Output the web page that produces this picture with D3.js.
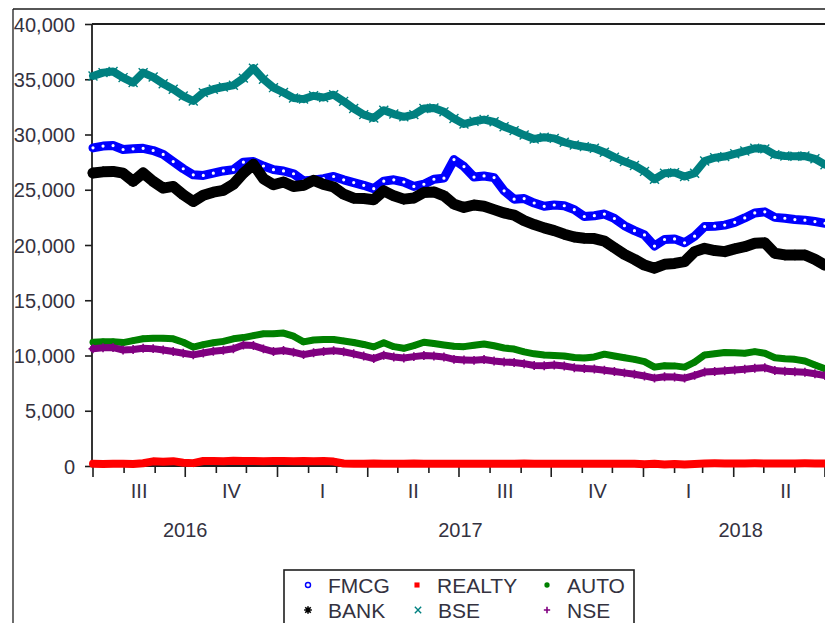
<!DOCTYPE html>
<html>
<head>
<meta charset="utf-8">
<script src="https://cdn.jsdelivr.net/npm/d3@7"></script>
<style>
  body { margin: 0; background: #fff; }
  svg { display: block; }
  text { font-family: "Liberation Sans", Arial, Helvetica, sans-serif; fill: #34323f; }
</style>
</head>
<body>
<svg id="chart" width="825" height="623"></svg>
<script>
// Sector indices, sampled every 10 calendar days from 1 July 2016
const startDate = new Date(2016, 6, 1);
const stepDays = 10;

const fmcg = [
  28790,28950,29000,28640,28700,28750,28550,28200,27550,26900,
  26350,26300,26500,26700,26820,27500,27550,27150,26820,26700,
  26450,25800,25880,26000,26200,25900,25650,25400,25100,25780,
  25900,25700,25300,25500,25950,26050,27730,27100,26150,26250,
  26100,24900,24150,24200,23800,23500,23620,23550,23200,22580,
  22650,22800,22400,21750,21300,20910,19900,20500,20550,20200,
  20800,21670,21700,21800,22050,22450,22900,23000,22500,22420,
  22300,22250,22120,21970
];
const realty = [
  200,190,210,200,180,250,420,380,440,300,
  260,450,460,440,470,450,460,440,460,450,
  430,460,440,450,400,230,210,200,215,205,
  210,200,215,205,210,200,210,205,200,210,
  205,210,200,215,205,210,200,210,205,200,
  210,205,200,210,205,150,200,140,190,140,
  180,230,240,230,235,230,240,235,230,235,
  230,240,235,230
];
const auto = [
  11210,11250,11250,11170,11350,11520,11570,11560,11510,11200,
  10760,10980,11150,11280,11510,11620,11800,11970,11970,12030,
  11750,11230,11400,11450,11450,11320,11180,11000,10780,11150,
  10800,10650,10900,11200,11080,10950,10830,10800,10930,11040,
  10880,10680,10580,10330,10150,10040,9990,9950,9820,9780,
  9870,10120,9950,9800,9650,9450,8950,9080,9060,8950,
  9400,10050,10160,10280,10250,10210,10350,10200,9800,9700,
  9650,9500,9150,8790
];
const bank = [
  26520,26620,26660,26500,25760,26520,25760,25150,25300,24550,
  23940,24500,24780,24950,25500,26500,27300,26000,25450,25700,
  25300,25400,25850,25480,25250,24600,24240,24200,24100,24900,
  24450,24150,24250,24750,24800,24450,23700,23400,23620,23500,
  23200,22900,22700,22200,21850,21550,21300,20980,20720,20610,
  20580,20350,19750,19150,18700,18180,17900,18250,18330,18500,
  19400,19700,19500,19400,19650,19850,20150,20200,19250,19100,
  19090,19090,18700,18180
];
const bse = [
  35300,35600,35700,35150,34700,35600,35200,34600,34100,33480,
  33030,33790,34100,34300,34450,35100,36000,35000,34240,33800,
  33300,33200,33500,33350,33600,33000,32350,31800,31500,32200,
  31850,31600,31800,32350,32400,32050,31450,30950,31200,31350,
  31150,30700,30350,29950,29600,29750,29650,29300,29050,28900,
  28750,28400,27950,27550,27200,26660,25950,26500,26550,26200,
  26500,27600,27900,28000,28250,28500,28750,28700,28180,28050,
  28030,28050,27800,27270
];
const nse = [
  10610,10700,10720,10500,10550,10660,10620,10500,10360,10200,
  10060,10230,10380,10480,10610,10950,10900,10600,10360,10450,
  10300,10080,10250,10370,10440,10340,10150,9950,9720,10030,
  9870,9780,9900,10000,9950,9870,9650,9600,9560,9630,
  9500,9420,9370,9260,9100,9080,9140,9050,8900,8830,
  8780,8660,8550,8430,8300,8150,7950,8070,8060,7950,
  8200,8500,8560,8620,8690,8760,8850,8900,8640,8580,
  8530,8480,8350,8180
];

const seriesNames = ["FMCG", "REALTY", "AUTO", "BANK", "BSE", "NSE"];
const seriesValues = [fmcg, realty, auto, bank, bse, nse];
const seriesColors = ["#0000ff", "#ff0000", "#008000", "#000000", "#008080", "#800080"];
const yTicks = [0, 5000, 10000, 15000, 20000, 25000, 30000, 35000, 40000];
const quarterNames = ["I", "II", "III", "IV"];

// ---- custom stroked marker shapes ----
const symX = { draw(ctx, size) { const r = Math.sqrt(size) / 2;
  ctx.moveTo(-r, -r); ctx.lineTo(r, r); ctx.moveTo(r, -r); ctx.lineTo(-r, r); } };
const symPlus = { draw(ctx, size) { const r = Math.sqrt(size) / 2;
  ctx.moveTo(-r, 0); ctx.lineTo(r, 0); ctx.moveTo(0, -r); ctx.lineTo(0, r); } };
const symStar = { draw(ctx, size) { const r = Math.sqrt(size) / 2;
  for (let k = 0; k < 4; k++) { const a = k * Math.PI / 4;
    ctx.moveTo(-r * Math.cos(a), -r * Math.sin(a)); ctx.lineTo(r * Math.cos(a), r * Math.sin(a)); } } };

// marker style per series
const styles = [
  { band: 9,  type: d3.symbolCircle, size: 8,   fill: "#ffffff", stroke: false },
  { band: 8,  type: d3.symbolSquare, size: 36,  fill: null,   stroke: false },
  { band: 7,  type: d3.symbolCircle, size: 30,  fill: null,   stroke: false },
  { band: 11, type: symStar,         size: 110, fill: "none", stroke: true, sw: 1.6 },
  { band: 8,  type: symX,            size: 80,  fill: "none", stroke: true, sw: 1.4 },
  { band: 7,  type: symPlus,         size: 80,  fill: "none", stroke: true, sw: 1.6 }
];
const legendStyles = [
  { type: d3.symbolCircle, size: 20, fill: "#ffffff", stroke: true, sw: 1.4 },
  { type: d3.symbolSquare, size: 26, fill: null, stroke: false },
  { type: d3.symbolCircle, size: 22, fill: null, stroke: false },
  { type: symStar, size: 60, fill: "none", stroke: true, sw: 1.6 },
  { type: symX, size: 40, fill: "none", stroke: true, sw: 1.4 },
  { type: symPlus, size: 40, fill: "none", stroke: true, sw: 1.6 }
];

const svg = d3.select("#chart");
const frameColor = "#1e1e1e";

const dates = d3.range(fmcg.length).map(i => d3.timeDay.offset(startDate, i * stepDays));
const lastDate = dates[dates.length - 1];
const domainStart = new Date(2016, 6, 1), domainEnd = new Date(2018, 6, 14);
const x = d3.scaleTime().domain([domainStart, domainEnd]).range([93, 838]);
const y = d3.scaleLinear().domain([0, 40000]).range([466, 24]);

// ---- outer frame ----
svg.append("line").attr("x1", 13).attr("y1", 9).attr("x2", 13).attr("y2", 640)
  .attr("stroke", frameColor).attr("stroke-width", 1.3);
svg.append("line").attr("x1", 13).attr("y1", 9).attr("x2", 850).attr("y2", 9)
  .attr("stroke", frameColor).attr("stroke-width", 1.3);

// ---- plot frame ----
svg.append("line").attr("x1", 92).attr("y1", 24).attr("x2", 850).attr("y2", 24)
  .attr("stroke", frameColor).attr("stroke-width", 1.8);
svg.append("line").attr("x1", 92).attr("y1", 24).attr("x2", 92).attr("y2", 467)
  .attr("stroke", frameColor).attr("stroke-width", 1.8);
svg.append("line").attr("x1", 92).attr("y1", 466).attr("x2", 850).attr("y2", 466)
  .attr("stroke", frameColor).attr("stroke-width", 1.8);

// ---- y axis ----
const yAxis = svg.append("g").attr("transform", "translate(92,0)")
  .call(d3.axisLeft(y).tickValues(yTicks).tickSize(7).tickPadding(10).tickFormat(d3.format(",")));
yAxis.select(".domain").remove();
yAxis.selectAll(".tick line").attr("stroke", frameColor).attr("stroke-width", 1.6);
yAxis.selectAll(".tick text").attr("font-size", 20).attr("dy", null)
  .attr("dominant-baseline", "central").style("font-family", "'Liberation Sans', Arial, sans-serif")
  .attr("fill", "#34323f");

// ---- x axis: monthly ticks, longer at quarter starts ----
const months = d3.timeMonth.range(domainStart, new Date(2018, 6, 2));
svg.append("g").selectAll("line").data(months).join("line")
  .attr("x1", d => x(d)).attr("x2", d => x(d))
  .attr("y1", 466).attr("y2", d => d.getMonth() % 3 === 0 ? 477 : 473)
  .attr("stroke", frameColor).attr("stroke-width", 1.6);

// quarter and year labels are centred on the part of the period inside the axis
const quarters = d3.timeMonth.every(3).range(domainStart, lastDate);
svg.append("g").selectAll("text").data(quarters).join("text")
  .attr("x", (d, i) => {
    const a = Math.max(x(d), x(domainStart));
    const b = i === quarters.length - 1 ? x(domainEnd) : x(d3.timeMonth.offset(d, 3));
    return (a + b) / 2; })
  .attr("y", 491).attr("text-anchor", "middle").attr("dominant-baseline", "central")
  .attr("font-size", 20).text(d => quarterNames[Math.floor(d.getMonth() / 3)]);

const years = [new Date(2016, 0, 1), new Date(2017, 0, 1), new Date(2018, 0, 1)];
svg.append("g").selectAll("text").data(years).join("text")
  .attr("x", d => {
    const a = Math.max(x(d), x(domainStart));
    const b = Math.min(x(d3.timeYear.offset(d, 1)), x(domainEnd));
    return (a + b) / 2; })
  .attr("y", 530).attr("text-anchor", "middle").attr("dominant-baseline", "central")
  .attr("font-size", 20).text(d => d.getFullYear());

// ---- series ----
const plot = svg.append("g");
const line = d3.line().x(d => x(d.date)).y(d => y(d.v));

seriesValues.forEach((vals, i) => {
  const pts = vals.map((v, j) => ({ date: dates[j], v }));
  const st = styles[i], col = seriesColors[i];
  const g = plot.append("g");
  g.append("path").datum(pts).attr("d", line)
    .attr("fill", "none").attr("stroke", col).attr("stroke-width", st.band)
    .attr("stroke-linejoin", "round").attr("stroke-linecap", "round");
  g.selectAll("path.mk").data(pts).join("path").attr("class", "mk")
    .attr("transform", d => `translate(${x(d.date)},${y(d.v)})`)
    .attr("d", d3.symbol().type(st.type).size(st.size))
    .attr("fill", st.fill === null ? col : st.fill)
    .attr("stroke", st.stroke ? col : "none")
    .attr("stroke-width", st.sw || 0);
});

// ---- legend ----
const legend = svg.append("g");
legend.append("rect").attr("x", 284).attr("y", 570).attr("width", 350).attr("height", 90)
  .attr("fill", "#fff").attr("stroke", frameColor).attr("stroke-width", 1.6);
const legendPos = [[308, 585], [417, 585], [547, 585], [308, 610], [418, 610], [547, 610]];
seriesNames.forEach((name, i) => {
  const [lx, ly] = legendPos[i], st = legendStyles[i], col = seriesColors[i];
  legend.append("path")
    .attr("transform", `translate(${lx},${ly})`)
    .attr("d", d3.symbol().type(st.type).size(st.size))
    .attr("fill", st.fill === null ? col : st.fill)
    .attr("stroke", st.stroke ? col : "none")
    .attr("stroke-width", st.sw || 0);
  legend.append("text").attr("x", lx + 20).attr("y", ly)
    .attr("dominant-baseline", "central").attr("font-size", 21)
    .attr("fill", "#1e1e2e").text(name);
});
</script>
</body>
</html>
